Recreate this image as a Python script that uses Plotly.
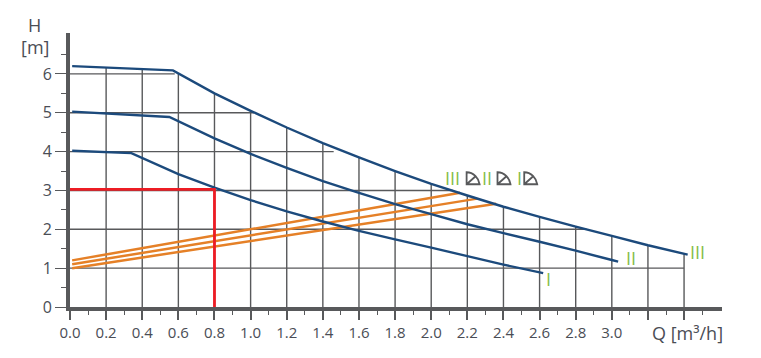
import plotly.graph_objects as go

PAGE_MARGIN = 8
W, H = 761 - 2 * PAGE_MARGIN, 358 - 2 * PAGE_MARGIN
L, R, T, B = 69.8 - PAGE_MARGIN, 722.5 - PAGE_MARGIN, 33.0 - PAGE_MARGIN, 307.0 - PAGE_MARGIN
X_MAX = (R - L) / 180.8
Y_MAX = (B - T) / 38.85

x_ticks = [0.0, 0.2, 0.4, 0.6, 0.8, 1.0, 1.2, 1.4, 1.6, 1.8, 2.0, 2.2, 2.4, 2.6, 2.8, 3.0, 3.2, 3.4]
x_labels = ["0.0", "0.2", "0.4", "0.6", "0.8", "1.0", "1.2", "1.4", "1.6", "1.8", "2.0", "2.2", "2.4", "2.6", "2.8", "3.0", "", ""]
x_minor = [0.1, 0.3, 0.5, 0.7, 0.9, 1.1, 1.3, 1.5, 1.7, 1.9, 2.1, 2.3, 2.5, 2.7, 2.9, 3.1, 3.3, 3.5]
y_ticks = [0, 1, 2, 3, 4, 5, 6]
y_minor = [0.5, 1.5, 2.5, 3.5, 4.5, 5.5, 6.5]

# grid lines stop at the top curve
grid_v_x = [0.2, 0.4, 0.6, 0.8, 1.0, 1.2, 1.4, 1.6, 1.8, 2.0, 2.2, 2.4, 2.6, 2.8, 3.0, 3.2, 3.4]
grid_v_top = [6.17, 6.13, 6.02, 5.5, 5.05, 4.62, 4.22, 3.85, 3.5, 3.17, 2.87, 2.58, 2.32, 2.07, 1.83, 1.59, 1.36]
grid_h_y = [1, 2, 3, 4, 5, 6]
grid_h_end = [3.4, 2.86, 2.12, 1.46, 1.02, 0.58]

curve3_q = [0.012, 0.57, 0.8, 1.0, 1.2, 1.4, 1.6, 1.8, 2.0, 2.2, 2.4, 2.6, 2.8, 3.0, 3.2, 3.42]
curve3_h = [6.2, 6.09, 5.5, 5.05, 4.62, 4.22, 3.85, 3.5, 3.17, 2.87, 2.58, 2.32, 2.07, 1.83, 1.59, 1.35]
curve2_q = [0.012, 0.55, 0.8, 1.0, 1.2, 1.4, 1.6, 1.8, 2.0, 2.2, 2.4, 2.6, 2.8, 3.0, 3.035]
curve2_h = [5.03, 4.89, 4.34, 3.94, 3.58, 3.24, 2.94, 2.65, 2.39, 2.13, 1.9, 1.68, 1.45, 1.21, 1.17]
curve1_q = [0.012, 0.34, 0.6, 0.8, 1.0, 1.2, 1.4, 1.6, 1.8, 2.0, 2.2, 2.4, 2.62]
curve1_h = [4.02, 3.96, 3.42, 3.07, 2.75, 2.46, 2.2, 1.96, 1.74, 1.53, 1.31, 1.09, 0.87]

sys_a_q = [0.012, 2.16]
sys_a_h = [1.2, 2.94]
sys_b_q = [0.012, 2.255]
sys_b_h = [1.1, 2.79]
sys_c_q = [0.012, 2.36]
sys_c_h = [1.0, 2.66]

duty_q = [0.0, 0.8, 0.8]
duty_h = [3.03, 3.03, -0.03]

GREY = "#58595b"
TEXT = "#4a4d55"
NAVY = "#1c4a7c"
ORANGE = "#e58027"
RED = "#ed1c24"
GREEN = "#86bd4a"
FONT = "Open Sans"

fig = go.Figure()


def line(x, y, color, width):
    fig.add_trace(go.Scatter(x=x, y=y, mode="lines", cliponaxis=False,
                             line=dict(color=color, width=width, simplify=False),
                             hoverinfo="skip", showlegend=False))


for x, top in zip(grid_v_x, grid_v_top):
    line([x, x], [0, top], GREY, 1.4)
for y, end in zip(grid_h_y, grid_h_end):
    line([0, end], [y, y], GREY, 1.4)

for q, h in [(sys_a_q, sys_a_h), (sys_b_q, sys_b_h), (sys_c_q, sys_c_h)]:
    line(q, h, ORANGE, 2.5)
for q, h in [(curve1_q, curve1_h), (curve2_q, curve2_h), (curve3_q, curve3_h)]:
    line(q, h, NAVY, 2.4)
line(duty_q, duty_h, RED, 2.8)


def label(text, px, py, size, color, family=FONT):
    fig.add_annotation(text=text, xref="paper", yref="paper",
                       x=(px - PAGE_MARGIN - L) / (R - L), y=(B - (py - PAGE_MARGIN)) / (B - T),
                       xanchor="center", yanchor="middle", showarrow=False,
                       font=dict(size=size, color=color, family=family))


label("H", 34, 25, 18, TEXT)
label("[m]", 35, 47, 18, TEXT)
label("Q [m³/h]", 687.5, 333, 18, TEXT)
label("III", 453, 178, 18, GREEN)
label("II", 487.7, 178, 18, GREEN)
label("I", 520, 178, 18, GREEN)
label("III", 697.7, 252.3, 18, GREEN)
label("II", 631.7, 258.3, 18, GREEN)
label("I", 549.3, 279.3, 18, GREEN)

# speed-setting icons
icon_q = [2.196, 2.367, 2.515]
icon_h = 3.16
for q in icon_q:
    fig.add_shape(type="path", xref="x", yref="y", xsizemode="pixel", ysizemode="pixel",
                  xanchor=q, yanchor=icon_h,
                  path="M 0 0 L 0 12 C 7 12 12 6 13 0 Z M 0 0 L 9 8",
                  line=dict(color=GREY, width=1.8), fillcolor="rgba(0,0,0,0)")

fig.update_layout(
    width=W, height=H, autosize=False,
    margin=dict(l=L, r=W - R, t=T, b=H - B, pad=0, autoexpand=False),
    paper_bgcolor="white", plot_bgcolor="white", showlegend=False,
    font=dict(family=FONT, color=TEXT),
    xaxis=dict(range=[0, X_MAX], showgrid=False, zeroline=False, showline=True, automargin=False,
               linecolor=GREY, linewidth=3.6, layer="below traces",
               tickmode="array", tickvals=x_ticks, ticktext=x_labels,
               ticks="outside", ticklen=9, tickwidth=1.6, tickcolor=GREY,
               tickfont=dict(size=15, color=TEXT, family=FONT),
               minor=dict(tickmode="array", tickvals=x_minor, ticks="outside",
                          ticklen=4, tickwidth=1, tickcolor=GREY)),
    yaxis=dict(range=[0, Y_MAX], showgrid=False, zeroline=False, showline=True, automargin=False,
               linecolor=GREY, linewidth=4, layer="below traces",
               tickmode="array", tickvals=y_ticks, ticktext=[str(v) for v in y_ticks],
               ticks="outside", ticklen=11, tickwidth=1.4, tickcolor=GREY,
               tickfont=dict(size=16, color=TEXT, family=FONT),
               minor=dict(tickmode="array", tickvals=y_minor, ticks="outside",
                          ticklen=5, tickwidth=1, tickcolor=GREY)),
)

fig.write_html("out.html", config=dict(displayModeBar=False))
